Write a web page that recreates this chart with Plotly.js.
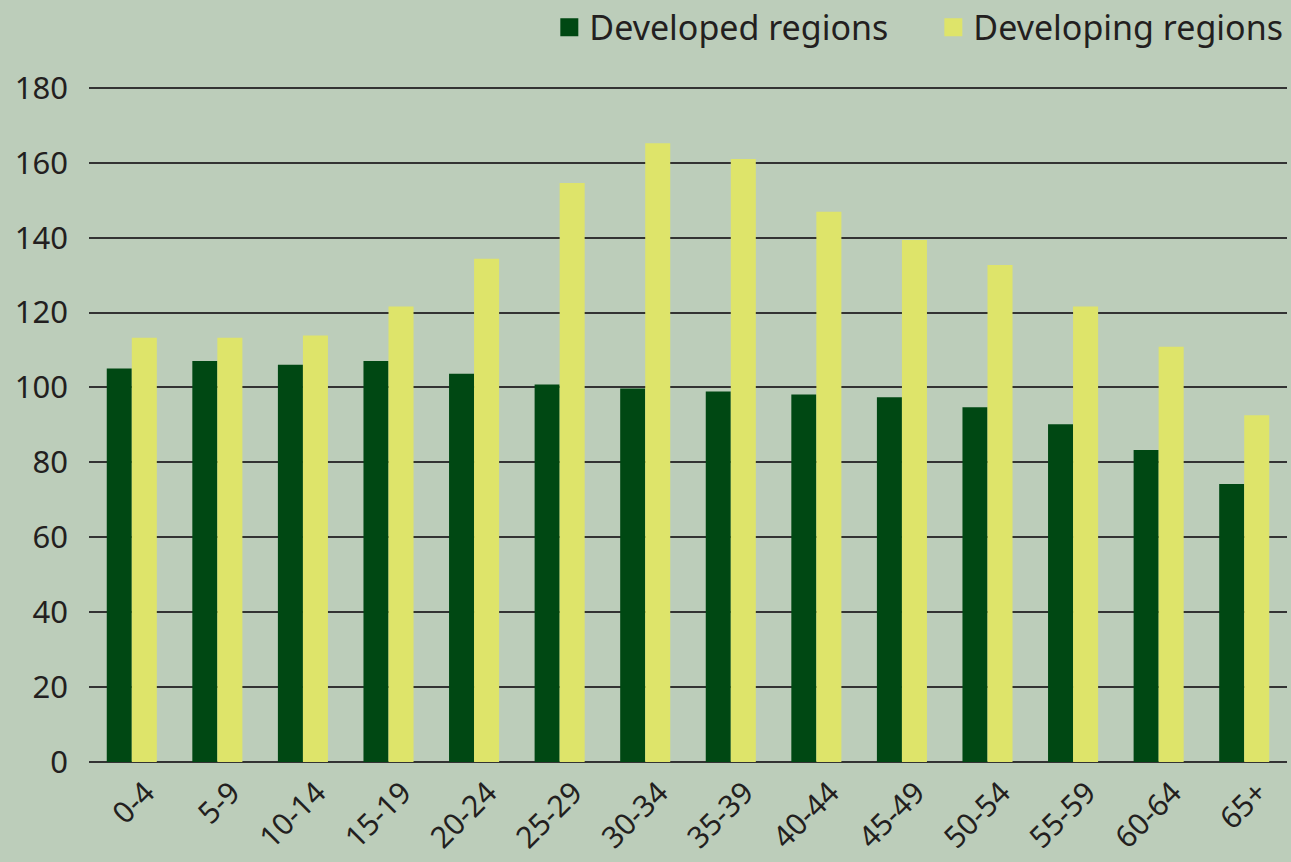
<!DOCTYPE html>
<html>
<head>
<meta charset="utf-8">
<script src="https://cdn.plot.ly/plotly-3.0.1.min.js"></script>
<style>html,body{margin:0;padding:0;background:#BCCDBA;}</style>
</head>
<body>
<div id="chart" style="width:1291px;height:862px;"></div>
<script>
const categories = ["0-4","5-9","10-14","15-19","20-24","25-29","30-34","35-39","40-44","45-49","50-54","55-59","60-64","65+"];
const developed = [105.1,107.1,106.1,107.1,103.7,100.8,99.7,98.9,98.1,97.4,94.7,90.2,83.3,74.2];
const developing = [113.3,113.3,113.9,121.6,134.4,154.6,165.2,161.0,146.9,139.4,132.7,121.6,110.9,92.6];
const yTicks = [0,20,40,60,80,100,120,140,160,180];
const seriesNames = ["Developed regions","Developing regions"];
const seriesColors = ["#004813","#DEE46A"];

const font = "'Noto Sans', 'Open Sans', sans-serif";
// legend-only key traces (one null point so nothing is drawn in the plot)
function keyTrace(i){
  return {type:"scatter", mode:"markers", name:seriesNames[i], x:[categories[0]], y:[null],
          hoverinfo:"skip",
          marker:{symbol:"square", size:16, color:seriesColors[i], line:{color:seriesColors[i], width:2}}};
}
const traces = [
  {type:"bar", name:seriesNames[0], x:categories, y:developed, marker:{color:seriesColors[0]}, showlegend:false},
  {type:"bar", name:seriesNames[1], x:categories, y:developing, marker:{color:seriesColors[1]}, showlegend:false},
  keyTrace(0), keyTrace(1)
];
const layout = {
  width:1291, height:862,
  paper_bgcolor:"#BCCDBA", plot_bgcolor:"#BCCDBA",
  margin:{l:89, r:4, t:86, b:100},
  barmode:"group", bargap:0.415, bargroupgap:0,
  font:{family:font, color:"#231F20", size:30},
  showlegend:true,
  legend:{orientation:"h", xref:"container", yref:"container", x:0.4255, xanchor:"left", y:0.968, yanchor:"middle",
          entrywidth:339, entrywidthmode:"pixels",
          font:{size:34, color:"#231F20"}, bgcolor:"rgba(0,0,0,0)", itemwidth:30, traceorder:"normal"},
  xaxis:{type:"category", categoryorder:"array", categoryarray:categories, range:[-0.5, categories.length-0.5],
         tickangle:-45, showgrid:false, zeroline:false, showline:false,
         ticks:"", tickfont:{size:30, color:"#231F20"}, ticklabelstandoff:6, ticklabelshift:14},
  yaxis:{range:[0,180.5], tickvals:yTicks, ticktext:yTicks.map(String), showgrid:true,
         gridcolor:"#333333", gridwidth:2, zeroline:true, zerolinecolor:"#333333", zerolinewidth:2,
         showline:false, ticks:"", tickfont:{size:31, color:"#231F20"}, ticklabelstandoff:20}
};
Plotly.newPlot("chart", traces, layout, {displayModeBar:false, staticPlot:true});
</script>
</body>
</html>
